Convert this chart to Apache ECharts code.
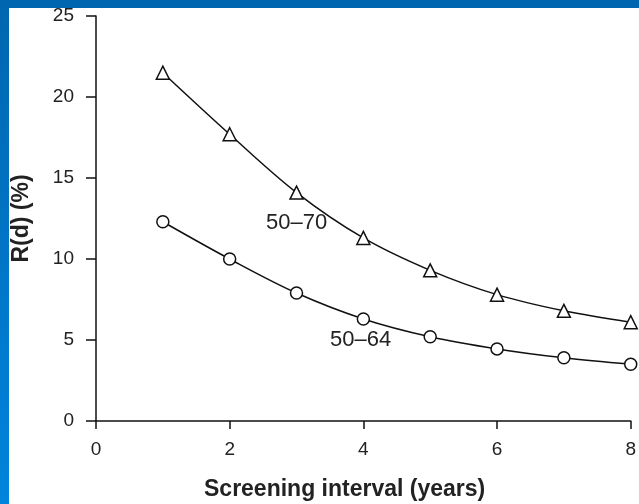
<!DOCTYPE html>
<html>
<head>
<meta charset="utf-8">
<script src="https://cdn.jsdelivr.net/npm/echarts@6/dist/echarts.min.js"></script>
<style>
  html, body { margin: 0; padding: 0; background: #fff; }
  #main { width: 639px; height: 504px; }
</style>
</head>
<body>
<div id="main"></div>
<script>
// screening interval (years)
var intervals = [1, 2, 3, 4, 5, 6, 7, 8];
// R(d) (%) for the two age groups
var age5070 = [21.5, 17.7, 14.1, 11.3, 9.3, 7.8, 6.8, 6.1];
var age5064 = [12.3, 10.0, 7.9, 6.3, 5.2, 4.45, 3.9, 3.5];
var yTicks = [0, 5, 10, 15, 20, 25];
var xTicks = [0, 2, 4, 6, 8];

function pairs(xs, ys) {
  return xs.map(function (x, i) { return [x, ys[i]]; });
}

var myChart = echarts.init(document.getElementById('main'));

var font = '"Liberation Sans", Arial, sans-serif';
var lineStyle = { color: '#111', width: 1.5 };

var option = {
  backgroundColor: '#fff',
  animation: false,
  grid: { left: 96, right: 2, top: 16, bottom: 83 },
  xAxis: {
    type: 'value',
    min: xTicks[0],
    max: xTicks[xTicks.length - 1],
    interval: 2,
    splitLine: { show: false },
    axisLine: { lineStyle: { color: '#111', width: 1.5 } },
    axisTick: { length: 8, lineStyle: { color: '#111', width: 1.5 } },
    axisLabel: { color: '#222', fontSize: 19, fontFamily: font, margin: 19 }
  },
  yAxis: {
    type: 'value',
    min: yTicks[0],
    max: yTicks[yTicks.length - 1],
    interval: 5,
    name: 'R(d) (%)',
    nameLocation: 'middle',
    nameGap: 63,
    nameTextStyle: { color: '#222', fontSize: 23, fontWeight: 'bold', fontFamily: font },
    splitLine: { show: false },
    axisLine: { lineStyle: { color: '#111', width: 1.5 } },
    axisTick: { length: 10, lineStyle: { color: '#111', width: 1.5 } },
    axisLabel: { color: '#222', fontSize: 19, fontFamily: font, margin: 22 }
  },
  series: [
    {
      name: '50-70',
      type: 'line',
      smooth: 0.35,
      data: pairs(intervals, age5070),
      symbol: 'triangle',
      symbolSize: 13,
      lineStyle: lineStyle,
      itemStyle: { color: '#fff', borderColor: '#111', borderWidth: 1.5 }
    },
    {
      name: '50-64',
      type: 'line',
      smooth: 0.35,
      data: pairs(intervals, age5064),
      symbol: 'circle',
      symbolSize: 12,
      lineStyle: lineStyle,
      itemStyle: { color: '#fff', borderColor: '#111', borderWidth: 1.5 }
    }
  ],
  graphic: [
    // blue frame strips
    {
      type: 'rect', left: 0, top: 0, z: 100,
      shape: { width: 639, height: 8 },
      style: { fill: '#0066b0' }
    },
    {
      type: 'rect', left: 0, top: 0, z: 100,
      shape: { width: 9, height: 504 },
      style: {
        fill: new echarts.graphic.LinearGradient(0, 0, 0, 1, [
          { offset: 0, color: '#0066b0' },
          { offset: 1, color: '#0084dc' }
        ])
      }
    },
    {
      type: 'text', left: 266, top: 212,
      style: { text: '50–70', fill: '#222', font: '22px ' + font }
    },
    {
      type: 'text', left: 330, top: 329,
      style: { text: '50–64', fill: '#222', font: '22px ' + font }
    },
    {
      type: 'text', left: 204, top: 478,
      style: { text: 'Screening interval (years)', fill: '#222', font: 'bold 23px ' + font }
    }
  ]
};

myChart.setOption(option);
</script>
</body>
</html>
